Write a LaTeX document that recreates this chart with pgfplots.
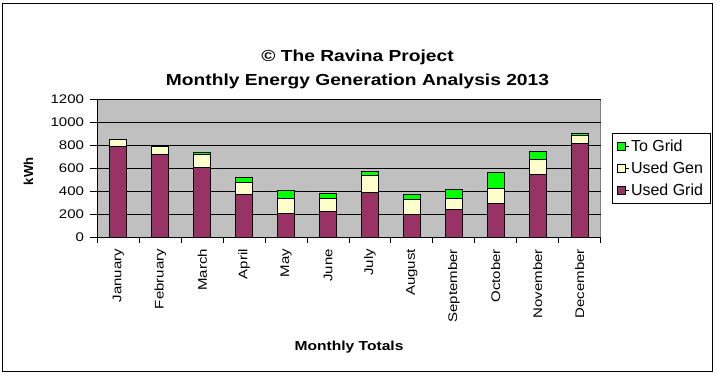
\documentclass[border=0pt]{standalone}
\usepackage{pgfplots}
\pgfplotsset{compat=1.18}
\usepackage{fontspec}
\setmainfont{Liberation Sans}[FakeStretch=1.2]
\newfontfamily\plainsans{Liberation Sans}
\definecolor{usedgrid}{HTML}{993366}
\definecolor{usedgen}{HTML}{FFFFCC}
\definecolor{togrid}{HTML}{00FF00}
\definecolor{plotbg}{HTML}{C0C0C0}
\begin{document}
\begin{tikzpicture}[x=1pt,y=1pt]
\useasboundingbox (0,0) rectangle (717,375);
\draw[black, line width=1pt] (2.5,3.5) rectangle (712.5,371.5);
\node[font=\fontsize{16}{24}\selectfont\bfseries, align=center] at (357.5,306) {\textcopyright{} The Ravina Project\\Monthly Energy Generation Analysis 2013};
\begin{axis}[
  at={(97.5pt,137.5pt)}, anchor=south west,
  scale only axis, width=503pt, height=138pt,
  ybar stacked, bar width=17pt,
  xmin=-0.5, xmax=11.5, ymin=0, ymax=1200,
  ytick={0,200,...,1200},
  ymajorgrids, major grid style={black, line width=1pt},
  xtick={0,...,11},
  xticklabels={January,February,March,April,May,June,July,August,September,October,November,December},
  xticklabel style={rotate=90, anchor=east, font=\fontsize{12.5}{14}\selectfont},
  yticklabel style={font=\fontsize{12.5}{14}\selectfont, xshift=-2pt},
  /pgf/number format/assume math mode=true,
  /pgf/number format/1000 sep={},
  major x tick style={draw=none},
  extra x ticks={-0.5,0.5,...,11.5},
  extra x tick labels={},
  extra x tick style={major x tick style={draw=black, line width=1pt}, grid=none, major tick length=5pt},
  tick align=outside, major tick length=8pt,
  major y tick style={black, line width=1pt},
  axis background/.style={fill=plotbg, draw=gray, line width=1pt},
  axis x line*=bottom, axis y line*=left,
  axis line style={black, line width=1pt, -},
  xlabel={\textbf{Monthly Totals}},
  xlabel style={font=\fontsize{13}{15}\selectfont, at={(axis description cs:0.5,0)}, anchor=center, yshift=-110pt},
  ylabel={\textbf{kWh}},
  ylabel style={font=\plainsans\fontsize{13}{15}\selectfont, at={(axis description cs:0,0.5)}, anchor=center, yshift=69pt, xshift=-3pt},
  legend style={at={(1,0.5)}, anchor=west, xshift=11pt, draw=black, line width=1pt,
    font=\plainsans\fontsize{16}{18}\selectfont, inner xsep=5pt, inner ysep=4pt, row sep=5pt, cells={anchor=west}},
  legend image code/.code={\path (0pt,0pt) -- (11pt,0pt); \draw[#1, line width=1pt] (0pt,-4pt) rectangle (8pt,4pt);},
  reverse legend,
  every axis plot/.append style={draw=black, line width=1pt},
]
\addplot[fill=usedgrid] coordinates {(0,788) (1,726) (2,612) (3,375) (4,208) (5,225) (6,392) (7,199) (8,243) (9,296) (10,550) (11,814)};
\addlegendentry{Used Grid}
\addplot[fill=usedgen] coordinates {(0,61) (1,67) (2,114) (3,105) (4,132) (5,115) (6,150) (7,132) (8,97) (9,131) (10,132) (11,70)};
\addlegendentry{Used Gen}
\addplot[fill=togrid] coordinates {(0,0) (1,0) (2,12) (3,44) (4,70) (5,44) (6,35) (7,44) (8,79) (9,141) (10,62) (11,18)};
\addlegendentry{To Grid}
\end{axis}
\end{tikzpicture}
\end{document}
